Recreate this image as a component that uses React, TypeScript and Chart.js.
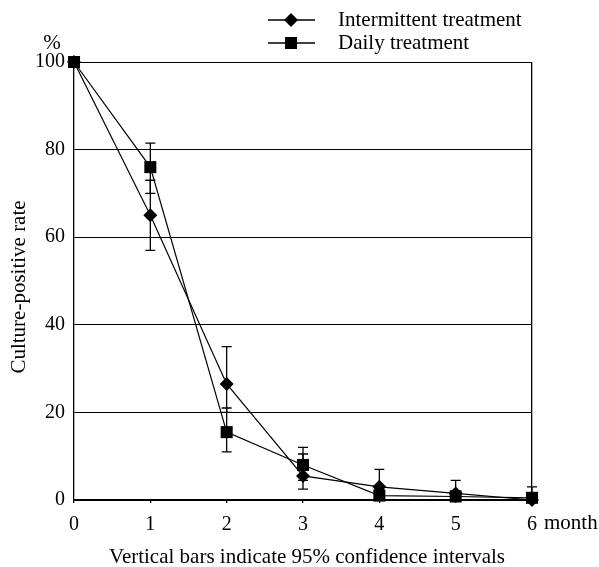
import React, { useEffect, useRef } from 'react';
import { Chart, registerables } from 'chart.js';
Chart.register(...registerables);

const months = [0, 1, 2, 3, 4, 5, 6];
const xTickLabels = ['0', '1', '2', '3', '4', '5', '6'];
const xUnit = 'month';
const intermittent = [100, 65, 26.5, 5.5, 3, 1.5, 0];
const intermittentLow = [null, 57, 20, 2.5, 0, 0, null];
const intermittentHigh = [null, 73, 35, 10.5, 7, 4.5, null];
const daily = [100, 76, 15.5, 8, 1, 0.8, 0.5];
const dailyLow = [null, 70, 11, 4.5, 0, 0, 0];
const dailyHigh = [null, 81.5, 21, 12, 2.5, 2, 3];
const seriesNames = ['Intermittent treatment', 'Daily treatment'];
const yTitle = 'Culture-positive rate';
const yUnit = '%';
const xTitle = 'Vertical bars indicate 95% confidence intervals';

const FONT = '"Liberation Serif", "Times New Roman", serif';

const decorPlugin = {
  id: 'decor',
  beforeDatasetsDraw(chart: any) {
    const ctx = chart.ctx;
    const xs = chart.scales.x;
    const ys = chart.scales.y;
    ctx.save();
    ctx.strokeStyle = '#000';
    ctx.lineWidth = 1.3;
    const sets: [any[], any[]][] = [
      [intermittentLow, intermittentHigh],
      [dailyLow, dailyHigh],
    ];
    for (const [lo, hi] of sets) {
      for (let i = 0; i < months.length; i++) {
        if (lo[i] == null || hi[i] == null) continue;
        const x = xs.getPixelForValue(months[i]);
        const y1 = ys.getPixelForValue(lo[i]);
        const y2 = ys.getPixelForValue(hi[i]);
        ctx.beginPath();
        ctx.moveTo(x, y1);
        ctx.lineTo(x, y2);
        ctx.moveTo(x - 5, y1);
        ctx.lineTo(x + 5, y1);
        ctx.moveTo(x - 5, y2);
        ctx.lineTo(x + 5, y2);
        ctx.stroke();
      }
    }
    ctx.restore();
  },
  afterDraw(chart: any) {
    const ctx = chart.ctx;
    const xs = chart.scales.x;
    const area = chart.chartArea;
    ctx.save();
    ctx.fillStyle = '#000';
    ctx.strokeStyle = '#000';
    ctx.font = `21px ${FONT}`;
    // legend
    const legY = [20, 43];
    for (let k = 0; k < 2; k++) {
      const y = legY[k];
      ctx.lineWidth = 1.3;
      ctx.beginPath();
      ctx.moveTo(268, y);
      ctx.lineTo(315, y);
      ctx.stroke();
      ctx.beginPath();
      if (k === 0) {
        ctx.moveTo(291, y - 7);
        ctx.lineTo(298, y);
        ctx.lineTo(291, y + 7);
        ctx.lineTo(284, y);
        ctx.closePath();
      } else {
        ctx.rect(285, y - 6, 12, 12);
      }
      ctx.fill();
      ctx.textAlign = 'left';
      ctx.textBaseline = 'middle';
      ctx.fillText(seriesNames[k], 338, y);
    }
    // % unit
    ctx.textAlign = 'center';
    ctx.textBaseline = 'middle';
    ctx.fillText(yUnit, 52, 43);
    // month unit
    ctx.textAlign = 'left';
    ctx.fillText(xUnit, xs.getPixelForValue(6) + 12, 523);
    // x title
    ctx.textAlign = 'center';
    ctx.fillText(xTitle, (area.left + area.right) / 2 + 4, 557);
    // y title
    ctx.translate(19, (area.top + area.bottom) / 2 + 6);
    ctx.rotate(-Math.PI / 2);
    ctx.fillText(yTitle, 0, 0);
    ctx.restore();
  },
};

export default function App() {
  const ref = useRef<HTMLCanvasElement>(null);
  useEffect(() => {
    const mk = (arr: number[]) => months.map((m, i) => ({ x: m, y: arr[i] }));
    const chart = new Chart(ref.current!, {
      type: 'line',
      data: {
        datasets: [
          {
            label: seriesNames[0],
            data: mk(intermittent),
            borderColor: '#000',
            backgroundColor: '#000',
            borderWidth: 1.2,
            pointStyle: 'rectRot',
            pointRadius: 7,
            pointBorderWidth: 0,
            tension: 0,
            clip: false,
          },
          {
            label: seriesNames[1],
            data: mk(daily),
            borderColor: '#000',
            backgroundColor: '#000',
            borderWidth: 1.2,
            pointStyle: 'rect',
            pointRadius: 8.5,
            pointBorderWidth: 0,
            tension: 0,
            clip: false,
          },
        ],
      },
      options: {
        responsive: false,
        animation: false,
        layout: { padding: { top: 62, right: 67, left: 0, bottom: 0 } },
        plugins: { legend: { display: false }, tooltip: { enabled: false } },
        scales: {
          x: {
            type: 'linear',
            min: 0,
            max: 6,
            afterFit: (s: any) => {
              s.height = 67;
            },
            afterBuildTicks: (s: any) => {
              s.ticks = months.map((m) => ({ value: m }));
            },
            ticks: {
              callback: (_v: any, i: number) => xTickLabels[i],
              color: '#000',
              font: { family: FONT, size: 20 },
              padding: 10,
              maxRotation: 0,
            },
            grid: {
              color: (c: any) => (c.tick && c.tick.value === 6 ? '#000' : 'rgba(0,0,0,0)'),
              tickColor: '#000',
              tickLength: 3,
              lineWidth: 1.3,
            },
            border: { display: true, color: '#000', width: 1.3 },
          },
          y: {
            min: 0,
            max: 100,
            afterFit: (s: any) => {
              s.width = 74;
            },
            ticks: {
              stepSize: 20,
              color: '#000',
              font: { family: FONT, size: 20 },
              padding: 9,
            },
            grid: { color: '#000', lineWidth: 1, drawTicks: false },
            border: { display: true, color: '#000', width: 1.3 },
          },
        },
      },
      plugins: [decorPlugin],
    });
    return () => chart.destroy();
  }, []);
  return (
    <div style={{ position: 'absolute', left: 0, top: 0, width: 599, height: 567, background: '#fff' }}>
      <canvas ref={ref} width={599} height={567} style={{ display: 'block' }} />
    </div>
  );
}
